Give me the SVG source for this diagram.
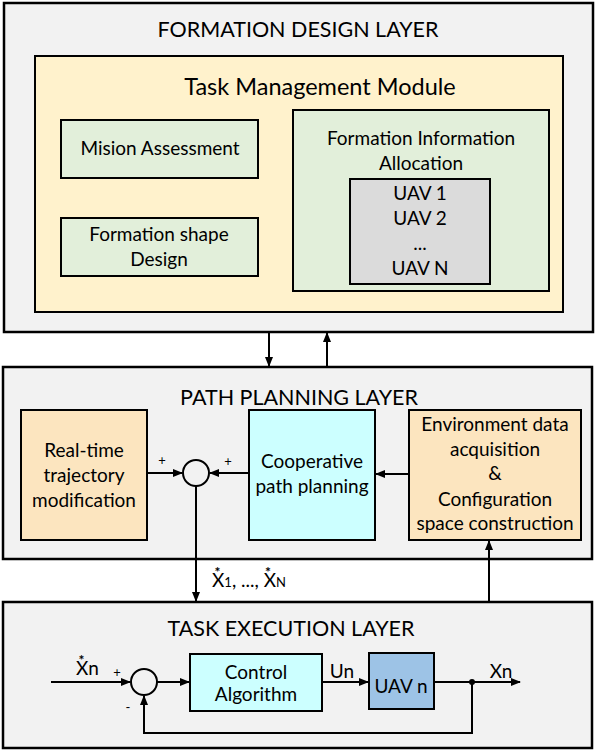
<svg xmlns="http://www.w3.org/2000/svg" width="596" height="750" viewBox="0 0 596 750">
<style>
text{font-family:Lato,"Liberation Sans",sans-serif;fill:#000;text-anchor:middle}
.t{font-size:21.5px}
.tm{font-size:23.5px}
.b{font-size:19px}
.s{font-size:13px}
.st{font-size:14px;font-weight:bold}
.box{stroke:#000;stroke-width:2}
.layer{fill:#F2F2F2;stroke:#000;stroke-width:2.5}
.ln{fill:none;stroke:#000;stroke-width:2}
</style>
<defs>
<marker id="ah" markerWidth="10" markerHeight="8" refX="9" refY="4" orient="auto" markerUnits="userSpaceOnUse">
<path d="M0,0 L10,4 L0,8 Z" fill="#000"/>
</marker>
</defs>
<g id="formation-layer">
<rect class="layer" x="4" y="3" width="589" height="329"/>
<text class="t" x="298" y="37">FORMATION DESIGN LAYER</text>
</g>
<g id="task-management">
<rect class="box" x="35" y="56" width="528" height="256" fill="#FFF2CC"/>
<text class="tm" x="320" y="95">Task Management Module</text>
</g>
<g id="mission-assessment">
<rect class="box" x="61" y="120" width="197" height="58" fill="#E2EFDA"/>
<text class="b" x="160" y="155">Mision Assessment</text>
</g>
<g id="formation-shape">
<rect class="box" x="61" y="218" width="197" height="58" fill="#E2EFDA"/>
<text class="b" x="159" y="241">Formation shape</text>
<text class="b" x="159" y="266">Design</text>
</g>
<g id="formation-info">
<rect class="box" x="293" y="110" width="256" height="181" fill="#E2EFDA"/>
<text class="b" x="421" y="145">Formation Information</text>
<text class="b" x="421" y="170">Allocation</text>
</g>
<g id="uav-list">
<rect class="box" x="350" y="179" width="140" height="105" fill="#DBDBDB"/>
<text class="b" x="420" y="200">UAV 1</text>
<text class="b" x="420" y="225">UAV 2</text>
<text class="b" x="420" y="250">...</text>
<text class="b" x="420" y="275">UAV N</text>
</g>
<g id="path-layer">
<rect class="layer" x="3" y="367" width="589" height="192"/>
<text class="t" x="299" y="405">PATH PLANNING LAYER</text>
</g>
<g id="realtime">
<rect class="box" x="21" y="410" width="126" height="130" fill="#FCE5BF"/>
<text class="b" x="84" y="457">Real-time</text>
<text class="b" x="84" y="482">trajectory</text>
<text class="b" x="84" y="507">modification</text>
</g>
<g id="cooperative">
<rect class="box" x="249" y="410" width="126" height="130" fill="#CCFFFF"/>
<text class="b" x="312" y="468">Cooperative</text>
<text class="b" x="312" y="493">path planning</text>
</g>
<g id="environment">
<rect class="box" x="409" y="410" width="172" height="130" fill="#FCE5BF"/>
<text class="b" x="495" y="431">Environment data</text>
<text class="b" x="495" y="456">acquisition</text>
<text class="b" x="495" y="480">&amp;</text>
<text class="b" x="495" y="506">Configuration</text>
<text class="b" x="495" y="530">space construction</text>
</g>
<g id="sum1">
<circle cx="196" cy="473" r="13" fill="#F2F2F2" stroke="#000" stroke-width="2"/>
</g>
<g id="execution-layer">
<rect class="layer" x="3" y="602" width="589" height="146"/>
<text class="t" x="291" y="636">TASK EXECUTION LAYER</text>
</g>
<g id="control">
<rect class="box" x="190" y="654" width="132" height="57" fill="#CCFFFF"/>
<text class="b" x="256" y="679">Control</text>
<text class="b" x="256" y="701">Algorithm</text>
</g>
<g id="uav-n">
<rect class="box" x="369" y="653" width="65" height="56" fill="#9DC3E6"/>
<text class="b" x="401" y="693">UAV n</text>
</g>
<g id="sum2">
<circle cx="144" cy="682" r="13" fill="#F2F2F2" stroke="#000" stroke-width="2"/>
</g>
<g id="connectors">
<line class="ln" x1="269" y1="332" x2="269" y2="366" marker-end="url(#ah)"/>
<line class="ln" x1="327" y1="367" x2="327" y2="333" marker-end="url(#ah)"/>
<line class="ln" x1="147" y1="473" x2="182" y2="473" marker-end="url(#ah)"/>
<line class="ln" x1="249" y1="473" x2="210" y2="473" marker-end="url(#ah)"/>
<line class="ln" x1="409" y1="474" x2="376" y2="474" marker-end="url(#ah)"/>
<line class="ln" x1="196" y1="486" x2="196" y2="601" marker-end="url(#ah)"/>
<line class="ln" x1="489" y1="602" x2="489" y2="541" marker-end="url(#ah)"/>
<line class="ln" x1="51" y1="682" x2="130" y2="682" marker-end="url(#ah)"/>
<line class="ln" x1="157" y1="682" x2="189" y2="682" marker-end="url(#ah)"/>
<line class="ln" x1="322" y1="682" x2="368" y2="682" marker-end="url(#ah)"/>
<line class="ln" x1="434" y1="682" x2="520" y2="682" marker-end="url(#ah)"/>
<polyline class="ln" points="472,682 472,733 144,733 144,696" marker-end="url(#ah)"/>
<circle cx="472" cy="682" r="3" fill="#000"/>
<text class="s" x="162" y="465">+</text>
<text class="s" x="228" y="466">+</text>
<text class="s" x="117" y="677">+</text>
<text class="s" x="128" y="712">-</text>
<text class="b" x="342" y="678">Un</text>
<text class="b" x="501" y="678">Xn</text>
<text style="font-size:19px;text-anchor:start" x="76" y="675">X<tspan dx="0">n</tspan></text>
<text class="st" x="81.5" y="665">*</text>
<text style="font-size:19px;text-anchor:start" x="212" y="587">X<tspan style="font-size:13px">1</tspan>, ..., X<tspan style="font-size:13px">N</tspan></text>
<text class="st" x="217.5" y="577">*</text>
<text class="st" x="268" y="577">*</text>
</g>
</svg>
